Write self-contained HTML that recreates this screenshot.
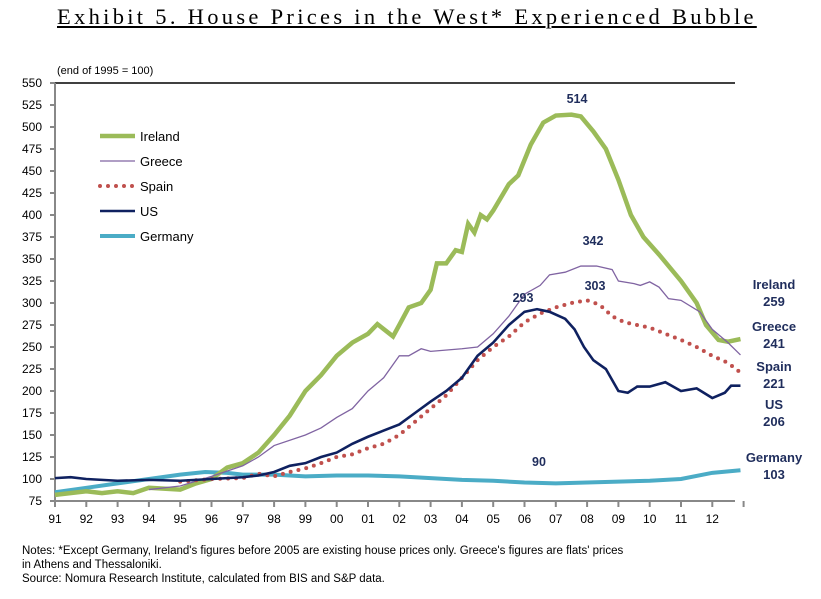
<!DOCTYPE html>
<html><head><meta charset="utf-8"><style>
body{margin:0;background:#fff;width:821px;height:599px;overflow:hidden;font-family:"Liberation Sans",sans-serif}
.t{position:absolute;left:57px;top:4px;font-family:"Liberation Serif",serif;font-size:22.5px;letter-spacing:3.3px;text-decoration:underline;white-space:nowrap}
.n{position:absolute;left:22px;font-size:11.5px;color:#000}
</style></head><body>
<div class="t">Exhibit 5. House Prices in the West* Experienced Bubble</div>
<svg id="s" width="821" height="599" style="position:absolute;left:0;top:0" font-family="Liberation Sans, sans-serif"></svg>
<div class="n" style="top:545px">Notes: *Except Germany, Ireland's figures before 2005 are existing house prices only. Greece's figures are flats' prices</div>
<div class="n" style="top:559px">in Athens and Thessaloniki.</div>
<div class="n" style="top:573px">Source: Nomura Research Institute, calculated from BIS and S&amp;P data.</div>
<script>
const X=t=>55+(t-91)*31.3, Y=v=>83+(550-v)/25*22;
let h='';
h+=`<text x="57" y="74" font-size="11">(end of 1995 = 100)</text>`;
h+=`<line x1="55" y1="83" x2="735" y2="83" stroke="#000" stroke-width="1.5"/>`;
h+=`<line x1="55" y1="83" x2="55" y2="502" stroke="#888" stroke-width="2"/>`;
h+=`<line x1="55" y1="501" x2="735" y2="501" stroke="#888" stroke-width="2"/>`;
for(let v=75;v<=550;v+=25){h+=`<text x="42" y="${Y(v)+4}" font-size="12" text-anchor="end">${v}</text><line x1="50" x2="55" y1="${Y(v)}" y2="${Y(v)}" stroke="#888" stroke-width="2"/>`;}
for(let i=0;i<=22;i++){let x=X(91+i);h+=`<line x1="${x}" x2="${x}" y1="501" y2="507" stroke="#888" stroke-width="2"/>`;if(i<22)h+=`<text x="${x}" y="523" font-size="12" text-anchor="middle">${String((91+i)%100).padStart(2,'0')}</text>`;}
const D={
ir:[[91,82],[92,86],[92.5,84],[93,86],[93.5,84],[94,90],[95,88],[95.5,95],[96,100],[96.5,113],[97,118],[97.5,130],[98,150],[98.5,172],[99,200],[99.5,218],[100,240],[100.5,255],[101,265],[101.3,276],[101.8,262],[102,275],[102.3,295],[102.7,300],[103,315],[103.2,345],[103.5,345],[103.8,360],[104,358],[104.2,390],[104.4,380],[104.6,400],[104.8,395],[105,405],[105.5,435],[105.8,445],[106.2,480],[106.6,505],[107,513],[107.5,514],[107.8,512],[108.2,495],[108.6,475],[109,440],[109.4,400],[109.8,375],[110.3,355],[111,325],[111.5,300],[111.8,275],[112.2,258],[112.5,256],[112.9,259]],
gr:[[94,88],[95,92],[96,103],[97,115],[97.5,125],[98,138],[99,150],[99.5,158],[100,170],[100.5,180],[101,200],[101.5,215],[102,240],[102.3,240],[102.7,248],[103,245],[104,248],[104.5,250],[105,265],[105.5,285],[106,310],[106.5,320],[106.8,332],[107.3,335],[107.8,342],[108.3,342],[108.8,338],[109,325],[109.5,322],[109.7,320],[110,324],[110.3,318],[110.6,305],[111,303],[111.6,290],[112,270],[112.5,255],[112.9,241]],
sp:[[95,97],[96,100],[97,101],[97.5,106],[98,103],[98.5,108],[99,112],[99.5,118],[100,125],[100.5,128],[101,135],[101.5,140],[102,150],[102.5,165],[103,180],[103.5,195],[104,215],[104.5,235],[105,250],[105.5,262],[106,278],[106.5,288],[107,295],[107.5,300],[108,303],[108.4,298],[108.8,285],[109.2,278],[110,272],[110.5,265],[111,258],[111.5,250],[112,240],[112.5,232],[112.9,221]],
us:[[91,101],[91.5,102],[92,100],[93,98],[94,99],[95,98],[96,100],[97,102],[97.5,104],[98,108],[98.5,115],[99,118],[99.5,125],[100,130],[100.5,140],[101,148],[101.5,155],[102,162],[102.5,175],[103,188],[103.5,200],[104,215],[104.5,240],[105,255],[105.5,275],[106,290],[106.4,293],[106.8,290],[107.3,282],[107.6,270],[107.9,250],[108.2,235],[108.6,225],[109,200],[109.3,198],[109.6,205],[110,205],[110.5,210],[111,200],[111.5,203],[112,192],[112.4,198],[112.6,206],[112.9,206]],
de:[[91,85],[92,90],[93,95],[94,100],[95,105],[95.8,108],[96.5,107],[97,105],[98,105],[99,103],[100,104],[101,104],[102,103],[103,101],[104,99],[105,98],[106,96],[107,95],[108,96],[109,97],[110,98],[111,100],[112,107],[112.9,110]]};
const P=a=>a.map(p=>X(p[0])+','+Y(p[1])).join(' ');
h+=`<polyline points="${P(D.de)}" fill="none" stroke="#4bacc6" stroke-width="4"/>`;
h+=`<polyline points="${P(D.ir)}" fill="none" stroke="#9bbb59" stroke-width="4.5"/>`;
h+=`<polyline points="${P(D.gr)}" fill="none" stroke="#8064a2" stroke-width="1.3"/>`;
h+=`<polyline points="${P(D.sp)}" fill="none" stroke="#c0504d" stroke-width="4" stroke-dasharray="0 8" stroke-linecap="round"/>`;
h+=`<polyline points="${P(D.us)}" fill="none" stroke="#0f2160" stroke-width="2.6"/>`;
const L=[['Ireland','#9bbb59',4.5,''],['Greece','#8064a2',1.3,''],['Spain','#c0504d',4,'0 8'],['US','#0f2160',2.6,''],['Germany','#4bacc6',4,'']];
L.forEach((l,i)=>{let y=136+i*25;h+=`<line x1="100" x2="135" y1="${y}" y2="${y}" stroke="${l[1]}" stroke-width="${l[2]}" ${l[3]?`stroke-dasharray="${l[3]}" stroke-linecap="round"`:''}/><text x="140" y="${y+5}" font-size="13">${l[0]}</text>`;});
const A=[[577,103,'514'],[593,245,'342'],[523,302,'293'],[595,290,'303'],[539,466,'90']];
A.forEach(a=>h+=`<text x="${a[0]}" y="${a[1]}" font-size="12.5" font-weight="bold" fill="#1f2d5c" text-anchor="middle">${a[2]}</text>`);
const R=[[289,'Ireland'],[306,'259'],[331,'Greece'],[348,'241'],[371,'Spain'],[388,'221'],[409,'US'],[426,'206'],[462,'Germany'],[479,'103']];
R.forEach(r=>h+=`<text x="774" y="${r[0]}" font-size="13" font-weight="bold" fill="#1f2d5c" text-anchor="middle">${r[1]}</text>`);
document.getElementById('s').innerHTML=h;
</script>
</body></html>
